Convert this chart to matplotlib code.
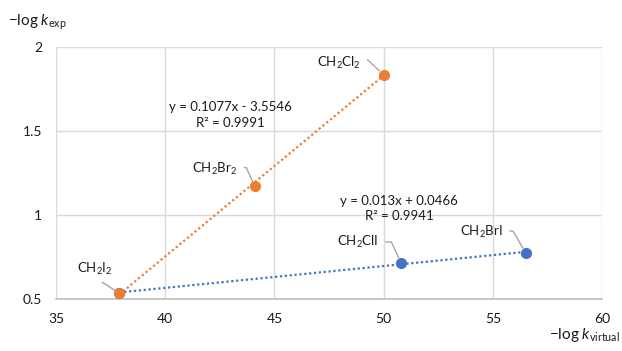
"""
plot.py
Correlation of experimental vs. virtual rate constants for CH2X2 species,
with Excel-style linear trendlines and leader-line labels.
"""

import numpy as np
import matplotlib
matplotlib.use("Agg")
import matplotlib.pyplot as plt
from matplotlib.ticker import FuncFormatter

# ---- data -------------------------------------------------------------
orange_names = ["CH$\\mathregular{_2}$I$\\mathregular{_2}$",
                "CH$\\mathregular{_2}$Br$\\mathregular{_2}$",
                "CH$\\mathregular{_2}$Cl$\\mathregular{_2}$"]
orange_x = [37.9, 44.1, 50.0]
orange_y = [0.535, 1.17, 1.835]

blue_names = ["", "CH$\\mathregular{_2}$ClI", "CH$\\mathregular{_2}$BrI"]
blue_x = [37.9, 50.8, 56.5]
blue_y = [0.535, 0.715, 0.775]

# trendline slope, intercept, R^2 (as printed on the chart)
orange_fit = (0.1077, -3.5546, 0.9991)
blue_fit = (0.013, 0.0466, 0.9941)

x_ticks = [35, 40, 45, 50, 55, 60]
y_ticks = [0.5, 1, 1.5, 2]

# ---- style ------------------------------------------------------------
ORANGE = "#ED7D31"
BLUE = "#4472C4"
GRID = "#d9d9d9"
LEADER = "#a6a6a6"
TXT = "#1a1a1a"

plt.rcParams["font.family"] = ["Lato", "DejaVu Sans"]
plt.rcParams["mathtext.fontset"] = "custom"
plt.rcParams["mathtext.rm"] = "Lato"
plt.rcParams["mathtext.it"] = "Lato:italic"


def eq_text(fit):
    a, b, r2 = fit
    sign = "-" if b < 0 else "+"
    return f"y = {a:g}x {sign} {abs(b):g}\nR² = {r2:g}"


fig = plt.figure(figsize=(6.22, 3.51), dpi=100)
ax = fig.add_axes([0.090, 0.148, 0.878, 0.718])

# trendlines
for xs, fit, col in [(orange_x, orange_fit, ORANGE), (blue_x, blue_fit, BLUE)]:
    tx = np.array([min(xs), max(xs)])
    ax.plot(tx, fit[0] * tx + fit[1], color=col, lw=1.6,
            linestyle=(0, (1, 1.2)), zorder=3)

# markers (blue first so the shared CH2I2 point shows orange)
ax.plot(blue_x, blue_y, "o", color=BLUE, ms=7, zorder=4)
ax.plot(orange_x, orange_y, "o", color=ORANGE, ms=7, zorder=5)

# labels with leader lines: (dx, dy) in pixels, relpos, connection
label_specs = [
    (orange_names[0], orange_x[0], orange_y[0], (-25, 24), (0.5, 0.0), "arc3"),
    (orange_names[1], orange_x[1], orange_y[1], (-40, 18), (1.0, 0.55), "angle,angleA=0,angleB=114,rad=0"),
    (orange_names[2], orange_x[2], orange_y[2], (-45, 12), (1.0, 0.7), "angle,angleA=0,angleB=137,rad=0"),
    (blue_names[1], blue_x[1], blue_y[1], (-43, 21), (1.0, 0.5), "angle,angleA=0,angleB=115,rad=0"),
    (blue_names[2], blue_x[2], blue_y[2], (-44, 21), (1.0, 0.55), "angle,angleA=0,angleB=120,rad=0"),
]
for name, x, y, off, rel, conn in label_specs:
    ax.annotate(name, xy=(x, y), xytext=off, textcoords="offset pixels",
                ha="center", va="center", fontsize=9.5, color=TXT,
                arrowprops=dict(arrowstyle="-", color=LEADER, lw=1.0,
                                relpos=rel, shrinkA=3, shrinkB=4,
                                connectionstyle=conn),
                zorder=6)

# trendline equations
ax.text(43.0, 1.595, eq_text(orange_fit), ha="center", va="center",
        fontsize=9.5, color=TXT, linespacing=1.35, multialignment="center")
ax.text(50.7, 1.04, eq_text(blue_fit), ha="center", va="center",
        fontsize=9.5, color=TXT, linespacing=1.35, multialignment="center")

# axes
ax.set_xlim(x_ticks[0], x_ticks[-1])
ax.set_ylim(y_ticks[0], y_ticks[-1])
ax.set_xticks(x_ticks)
ax.set_yticks(y_ticks)
ax.yaxis.set_major_formatter(FuncFormatter(lambda v, _: f"{v:g}"))
ax.grid(True, color=GRID, lw=1.0, zorder=0)
ax.set_axisbelow(True)
ax.tick_params(length=0, labelsize=10, colors=TXT)
ax.tick_params(axis="x", pad=10)
ax.tick_params(axis="y", pad=10)
for side in ["top", "right", "left"]:
    ax.spines[side].set_visible(False)
ax.spines["bottom"].set_color("#bfbfbf")
ax.spines["bottom"].set_linewidth(1.2)

fig.text(0.013, 0.937, "−log $k_{\\mathrm{exp}}$", ha="left", va="center",
         fontsize=11, color=TXT)
fig.text(0.997, 0.020, "−log $k_{\\mathrm{virtual}}$", ha="right", va="bottom",
         fontsize=11, color=TXT)

fig.savefig("out.png", dpi=100)
